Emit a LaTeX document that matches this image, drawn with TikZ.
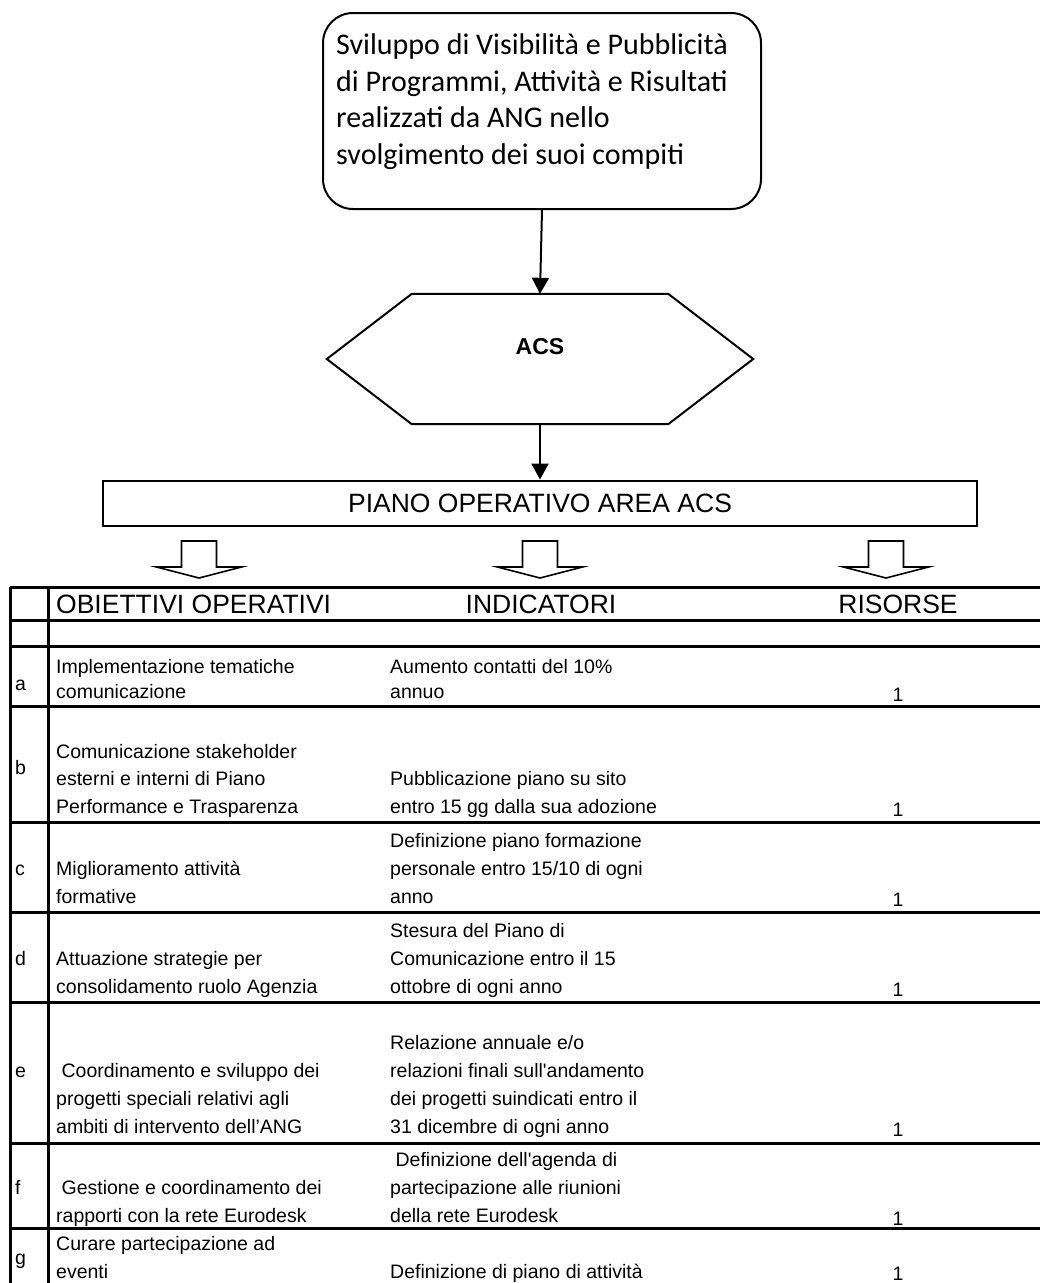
\documentclass[tikz,border=0pt]{standalone}
\usepackage{fontspec}
\setmainfont{Liberation Sans}
\newfontfamily\calfont{Carlito}
\usetikzlibrary{arrows.meta,calc}

\begin{document}
\begin{tikzpicture}[x=1pt,y=-1pt,
  conn/.style={line width=2pt,-{Triangle[length=16pt,width=17pt]}},
  shapeline/.style={line width=2pt,line join=miter},
  rule/.style={line width=3pt},
  goalline/.style={anchor=base west,inner sep=0pt,font=\calfont\fontsize{30}{36}\selectfont},
  cell/.style={anchor=base west,inner sep=0pt,font=\fontsize{19.5}{22}\selectfont},
  lbl/.style={anchor=base west,inner sep=0pt,font=\fontsize{19.5}{22}\selectfont},
  res/.style={anchor=base,inner sep=0pt,font=\fontsize{19.5}{22}\selectfont},
  head/.style={anchor=base,inner sep=0pt,font=\fontsize{26.5}{30}\selectfont},
  downarrow/.pic={
    \draw[line width=1.6pt,line join=miter,fill=white]
      (-17.5,0) -- (17.5,0) -- (17.5,26) -- (42.5,26) -- (0,37)
      -- (-42.5,26) -- (-17.5,26) -- cycle;
  }
]
\useasboundingbox (0,0) rectangle (1040,1283);
\fill[white] (0,0) rectangle (1040,1283);

% goal box
\node[draw,shapeline,rounded corners=30pt,minimum width=438pt,minimum height=196pt,
      inner sep=0pt,anchor=north west] (goal) at (322,12) {};
\node[goalline] (g1) at (336,54)  {Sviluppo di Visibilità e Pubblicità};
\node[goalline] (g2) at (336,91)  {di Programmi, Attività e Risultati};
\node[goalline] (g3) at (336,127) {realizzati da ANG nello};
\node[goalline] (g4) at (336,164) {svolgimento dei suoi compiti};

% ACS hexagon
\node[minimum width=426pt,minimum height=130pt,inner sep=0pt] (acs) at (540,359) {};
\draw[shapeline] (acs.west) -- ($(acs.north west)+(85,0)$) -- ($(acs.north east)+(-85,0)$)
  -- (acs.east) -- ($(acs.south east)+(-85,0)$) -- ($(acs.south west)+(85,0)$) -- cycle;
\node[font=\bfseries\fontsize{23}{27}\selectfont,inner sep=0pt] (acslabel) at (540,347) {ACS};

% operating plan bar
\node[draw,shapeline,minimum width=874pt,minimum height=45pt,inner sep=0pt,
      font=\fontsize{26.5}{30}\selectfont] (piano) at (540,503) {PIANO OPERATIVO AREA ACS};

\draw[conn] (goal.south) -- (acs.north);
\draw[conn] (acs.south) -- (piano.north);

% hollow block arrows
\pic at (199,541) {downarrow};
\pic at (540,541) {downarrow};
\pic at (886,541) {downarrow};

% table rules
\foreach \yy in {587,620,646,706,822,912,1002,1143,1228}
  \draw[rule] (10,\yy) -- (1040,\yy);
\draw[rule] (10,587) -- (10,1283);
\draw[rule] (48,587) -- (48,1283);

% header
\node[head,anchor=base west] (h1) at (56,613) {OBIETTIVI OPERATIVI};
\node[head] (h2) at (541,613) {INDICATORI};
\node[head] (h3) at (898,613) {RISORSE};

% row a
\node[lbl] (la) at (15,690) {a};
\node[cell] (oa1) at (56,673) {Implementazione tematiche};
\node[cell] (oa2) at (56,698) {comunicazione};
\node[cell] (ia1) at (390,673) {Aumento contatti del 10\%};
\node[cell] (ia2) at (390,698) {annuo};
\node[res] (ra) at (898,701) {1};

% row b
\node[lbl] (lb) at (15,774) {b};
\node[cell] (ob1) at (56,758) {Comunicazione stakeholder};
\node[cell] (ob2) at (56,785) {esterni e interni di Piano};
\node[cell] (ob3) at (56,813) {Performance e Trasparenza};
\node[cell] (ib1) at (390,785) {Pubblicazione piano su sito};
\node[cell] (ib2) at (390,813) {entro 15 gg dalla sua adozione};
\node[res] (rb) at (898,816) {1};

% row c
\node[lbl] (lc) at (15,875) {c};
\node[cell] (oc1) at (56,875) {Miglioramento attività};
\node[cell] (oc2) at (56,903) {formative};
\node[cell] (ic1) at (390,847) {Definizione piano formazione};
\node[cell] (ic2) at (390,875) {personale entro 15/10 di ogni};
\node[cell] (ic3) at (390,903) {anno};
\node[res] (rc) at (898,906) {1};

% row d
\node[lbl] (ld) at (15,965) {d};
\node[cell] (od1) at (56,965) {Attuazione strategie per};
\node[cell] (od2) at (56,993) {consolidamento ruolo Agenzia};
\node[cell] (id1) at (390,937) {Stesura del Piano di};
\node[cell] (id2) at (390,965) {Comunicazione entro il 15};
\node[cell] (id3) at (390,993) {ottobre di ogni anno};
\node[res] (rd) at (898,996) {1};

% row e
\node[lbl] (le) at (15,1077) {e};
\node[cell] (oe1) at (56,1077) {\ Coordinamento e sviluppo dei};
\node[cell] (oe2) at (56,1105) {progetti speciali relativi agli};
\node[cell] (oe3) at (56,1133) {ambiti di intervento dell’ANG};
\node[cell] (ie1) at (390,1049) {Relazione annuale e/o};
\node[cell] (ie2) at (390,1077) {relazioni finali sull\textquotesingle andamento};
\node[cell] (ie3) at (390,1105) {dei progetti suindicati entro il};
\node[cell] (ie4) at (390,1133) {31 dicembre di ogni anno};
\node[res] (re) at (898,1136) {1};

% row f
\node[lbl] (lf) at (15,1194) {f};
\node[cell] (of1) at (56,1194) {\ Gestione e coordinamento dei};
\node[cell] (of2) at (56,1222) {rapporti con la rete Eurodesk};
\node[cell] (if1) at (390,1166) {\ Definizione dell\textquotesingle agenda di};
\node[cell] (if2) at (390,1194) {partecipazione alle riunioni};
\node[cell] (if3) at (390,1222) {della rete Eurodesk};
\node[res] (rf) at (898,1225) {1};

% row g
\node[lbl] (lg) at (15,1264) {g};
\node[cell] (og1) at (56,1250) {Curare partecipazione ad};
\node[cell] (og2) at (56,1278) {eventi};
\node[cell] (ig1) at (390,1278) {Definizione di piano di attività};
\node[res] (rg) at (898,1280) {1};
\end{tikzpicture}
\end{document}
